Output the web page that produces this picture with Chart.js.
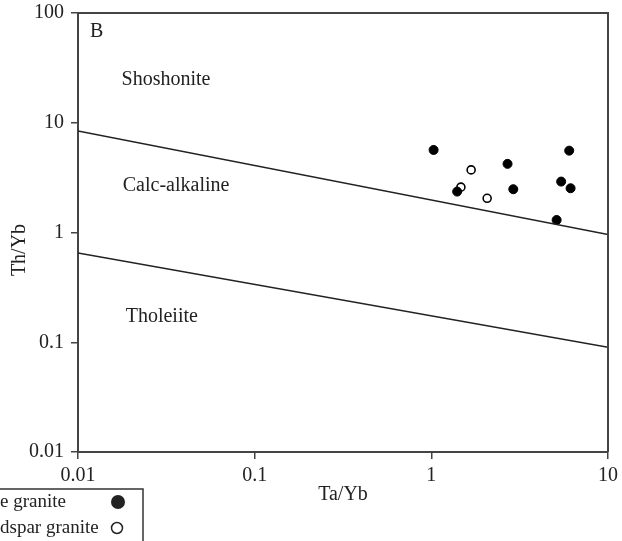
<!DOCTYPE html>
<html>
<head>
<meta charset="utf-8">
<script src="https://cdn.jsdelivr.net/npm/chart.js@4/dist/chart.umd.min.js"></script>
<style>
  html, body { margin: 0; padding: 0; background: #fff; }
  #wrap { width: 622px; height: 541px; position: relative; }
</style>
</head>
<body>
<div id="wrap"><canvas id="tectonicChart"></canvas></div>
<script>
// axis ticks
const xTicks = [0.01, 0.1, 1, 10];
const xTickLabels = ["0.01", "0.1", "1", "10"];
const yTicks = [0.01, 0.1, 1, 10, 100];
const yTickLabels = ["0.01", "0.1", "1", "10", "100"];

// samples
const seriesNames = ["e granite", "dspar granite"];
const filledTaYb = [1.03, 6.03, 2.70, 1.40, 2.91, 5.43, 6.14, 5.12];
const filledThYb = [5.65, 5.57, 4.22, 2.36, 2.48, 2.91, 2.53, 1.30];
const openTaYb = [1.68, 1.47, 2.07];
const openThYb = [3.72, 2.59, 2.05];

// field boundaries
const upperLineTaYb = [0.01, 10];
const upperLineThYb = [8.4, 0.96];
const lowerLineTaYb = [0.01, 10];
const lowerLineThYb = [0.65, 0.09];

// field names
const fieldNames = ["Shoshonite", "Calc-alkaline", "Tholeiite"];
const fieldTaYb = [0.0315, 0.0359, 0.0298];
const fieldThYb = [24.5, 2.65, 0.17];
const panelLabel = "B";
const yTitle = "Th/Yb";

const serif = "'Liberation Serif', 'Times New Roman', serif";
const ink = "#222";

function pts(xs, ys) {
    return xs.map((x, i) => ({ x: x, y: ys[i] }));
}

const fieldLabels = {
    id: "fieldLabels",
    afterDatasetsDraw(chart) {
        const { ctx, scales: { x, y } } = chart;
        ctx.save();
        ctx.fillStyle = ink;
        ctx.font = "20px " + serif;
        ctx.textAlign = "center";
        ctx.textBaseline = "middle";
        fieldNames.forEach((name, i) => {
            ctx.fillText(name, x.getPixelForValue(fieldTaYb[i]), y.getPixelForValue(fieldThYb[i]));
        });
        ctx.textAlign = "left";
        ctx.fillText(panelLabel, x.getPixelForValue(0.0117), y.getPixelForValue(67));
        ctx.restore();
    },
};

const frame = {
    id: "frame",
    afterDraw(chart) {
        const { ctx, chartArea: a } = chart;
        ctx.save();
        ctx.strokeStyle = "#444";
        ctx.lineWidth = 2;
        ctx.beginPath();
        ctx.moveTo(a.left, a.top);
        ctx.lineTo(a.right, a.top);
        ctx.lineTo(a.right, a.bottom);
        ctx.stroke();

        // y title, sits a little below the axis middle in the original
        ctx.fillStyle = ink;
        ctx.font = "20px " + serif;
        ctx.textAlign = "center";
        ctx.textBaseline = "middle";
        ctx.translate(20, 250);
        ctx.rotate(-Math.PI / 2);
        ctx.fillText(yTitle, 0, 0);
        ctx.setTransform(1, 0, 0, 1, 0, 0);

        // legend box, cut off at the left edge like the original
        ctx.lineWidth = 1.5;
        ctx.strokeStyle = "#333";
        ctx.strokeRect(-5, 489, 148, 60);
        ctx.font = "19px " + serif;
        ctx.textAlign = "left";
        ctx.fillText(seriesNames[0], 0, 502);
        ctx.fillText(seriesNames[1], 0, 528);
        ctx.beginPath();
        ctx.arc(118, 502, 7, 0, Math.PI * 2);
        ctx.fill();
        ctx.beginPath();
        ctx.arc(117, 528, 5.5, 0, Math.PI * 2);
        ctx.lineWidth = 1.5;
        ctx.strokeStyle = ink;
        ctx.stroke();
        ctx.restore();
    },
};

document.addEventListener("DOMContentLoaded", () => {
    const ctx = document.getElementById("tectonicChart");

    new Chart(ctx, {
        data: {
            datasets: [
                {
                    type: "line",
                    data: pts(upperLineTaYb, upperLineThYb),
                    borderColor: ink,
                    borderWidth: 1.5,
                    pointRadius: 0,
                    fill: false,
                },
                {
                    type: "line",
                    data: pts(lowerLineTaYb, lowerLineThYb),
                    borderColor: ink,
                    borderWidth: 1.5,
                    pointRadius: 0,
                    fill: false,
                },
                {
                    type: "scatter",
                    label: seriesNames[0],
                    data: pts(filledTaYb, filledThYb),
                    pointRadius: 4.5,
                    backgroundColor: "#000",
                    borderColor: "#000",
                    borderWidth: 1,
                },
                {
                    type: "scatter",
                    label: seriesNames[1],
                    data: pts(openTaYb, openThYb),
                    pointRadius: 4,
                    backgroundColor: "#fff",
                    borderColor: "#000",
                    borderWidth: 1.6,
                },
            ],
        },
        options: {
            responsive: true,
            maintainAspectRatio: false,
            animation: false,
            layout: {
                padding: { left: 0, top: 13, right: 14, bottom: 34 },
            },
            scales: {
                x: {
                    type: "logarithmic",
                    position: "bottom",
                    min: 0.01,
                    max: 10,
                    afterBuildTicks: (scale) => {
                        scale.ticks = xTicks.map((v) => ({ value: v }));
                    },
                    afterFit: (scale) => {
                        scale.height = 55;
                        scale.paddingLeft = 0;
                        scale.paddingRight = 0;
                    },
                    ticks: {
                        color: ink,
                        font: { family: serif, size: 20 },
                        padding: 5,
                        maxRotation: 0,
                        autoSkip: false,
                        callback: (v) => xTickLabels[xTicks.indexOf(v)],
                    },
                    grid: {
                        display: true,
                        drawOnChartArea: false,
                        drawTicks: true,
                        tickLength: 7,
                        color: "#444",
                        lineWidth: 1.5,
                    },
                    border: { display: true, color: "#444", width: 2 },
                    title: {
                        display: true,
                        text: "Ta/Yb",
                        color: ink,
                        font: { family: serif, size: 20 },
                        padding: 0,
                    },
                },
                y: {
                    type: "logarithmic",
                    position: "left",
                    min: 0.01,
                    max: 100,
                    afterBuildTicks: (scale) => {
                        scale.ticks = yTicks.map((v) => ({ value: v }));
                    },
                    afterFit: (scale) => {
                        scale.width = 78;
                        scale.paddingTop = 0;
                        scale.paddingBottom = 0;
                    },
                    ticks: {
                        color: ink,
                        font: { family: serif, size: 20 },
                        padding: 7,
                        autoSkip: false,
                        callback: (v) => yTickLabels[yTicks.indexOf(v)],
                    },
                    grid: {
                        display: true,
                        drawOnChartArea: false,
                        drawTicks: true,
                        tickLength: 7,
                        color: "#444",
                        lineWidth: 1.5,
                    },
                    border: { display: true, color: "#444", width: 2 },
                    title: { display: false },
                },
            },
            plugins: {
                legend: { display: false },
                tooltip: { enabled: false },
            },
        },
        plugins: [fieldLabels, frame],
    });
});
</script>
</body>
</html>
